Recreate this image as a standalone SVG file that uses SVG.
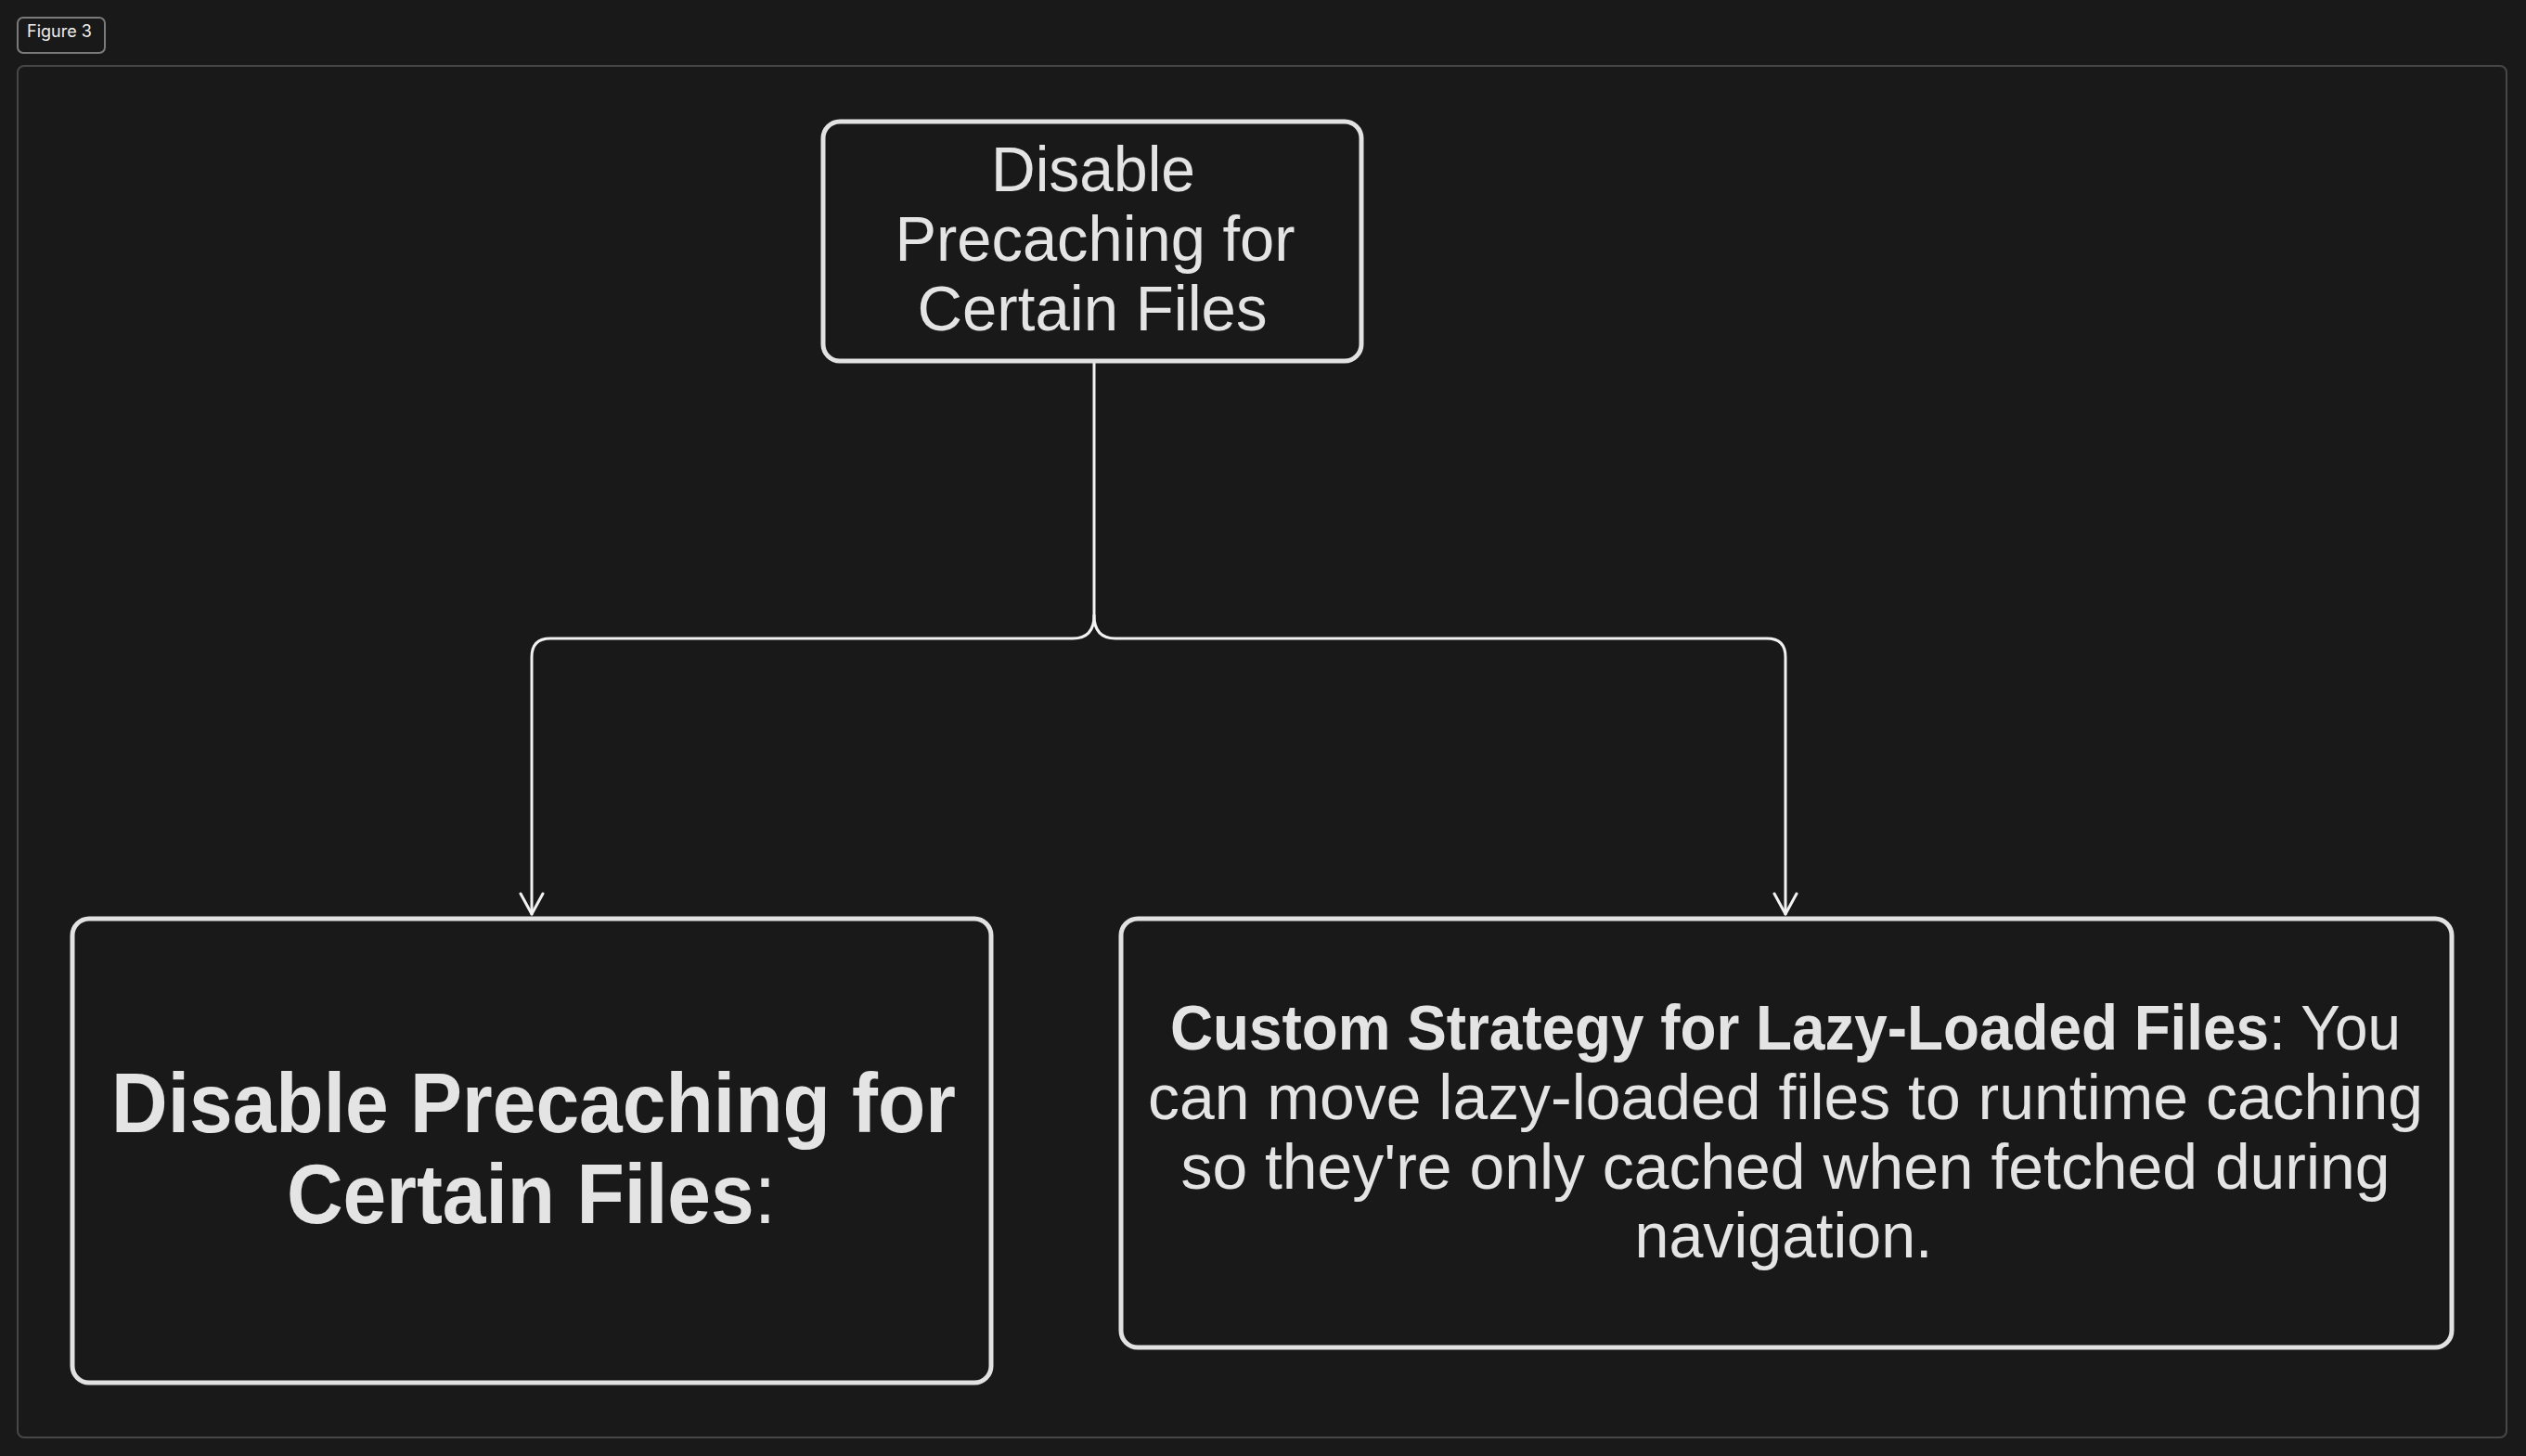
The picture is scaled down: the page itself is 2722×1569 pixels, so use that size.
<svg xmlns="http://www.w3.org/2000/svg" width="2722" height="1569" viewBox="0 0 2722 1569">
<style>
.node{fill:#191919;stroke:#e2e2e2;stroke-width:5}
.t{fill:#e4e4e4;font-family:"Liberation Sans",Arial,sans-serif;font-size:68px}
.b{font-weight:bold}
.r{font-weight:normal}
.c{text-anchor:middle}
.conn{fill:none;stroke:#f2f2f2;stroke-width:3;stroke-linecap:round;stroke-linejoin:round}
</style>
<defs>
<marker id="arr" markerUnits="userSpaceOnUse" markerWidth="30" markerHeight="30" viewBox="0 0 30 30" refX="24" refY="15" orient="auto">
<path d="M2 3 L24 15 L2 27" fill="none" stroke="#f2f2f2" stroke-width="3" stroke-linecap="round" stroke-linejoin="round"/>
</marker>
</defs>
<rect width="2722" height="1569" fill="#191919"/>
<g id="frame">
<rect x="19" y="71" width="2682" height="1478" rx="7" fill="none" stroke="#474747" stroke-width="2"/>
</g>
<g id="figure-label">
<rect x="19" y="19" width="94" height="38" rx="6" fill="#191919" stroke="#7a7a7a" stroke-width="2"/>
<text x="29" y="40" style="fill:#f0f0f0;font-family:Inter,'Liberation Sans',sans-serif;font-size:18px">Figure 3</text>
</g>
<g id="connectors">
<path class="conn" d="M1179 389 V663 Q1179 688 1156 688 H593 Q573 688 573 708 V985" marker-end="url(#arr)"/>
<path class="conn" d="M1179 663 Q1179 688 1202 688 H1904 Q1924 688 1924 708 V985" marker-end="url(#arr)"/>
</g>
<g id="node-top">
<rect class="node" x="887" y="131" width="580" height="258" rx="18"/>
<text class="t c" x="1178" y="206" textLength="220" lengthAdjust="spacingAndGlyphs">Disable</text>
<text class="t c" x="1180" y="281" textLength="431" lengthAdjust="spacingAndGlyphs">Precaching for</text>
<text class="t c" x="1177" y="356" textLength="377" lengthAdjust="spacingAndGlyphs">Certain Files</text>
</g>
<g id="node-left">
<rect class="node" x="78" y="990" width="990" height="500" rx="18"/>
<text class="t b" x="120" y="1220" style="font-size:90px" textLength="910" lengthAdjust="spacingAndGlyphs">Disable Precaching for</text>
<text class="t" x="309" y="1318" style="font-size:90px" textLength="527" lengthAdjust="spacingAndGlyphs"><tspan class="b">Certain Files</tspan><tspan class="r">:</tspan></text>
</g>
<g id="node-right">
<rect class="node" x="1208" y="990" width="1434" height="462" rx="18"/>
<text class="t" x="1261" y="1131" textLength="1326" lengthAdjust="spacingAndGlyphs"><tspan class="b">Custom Strategy for Lazy-Loaded Files</tspan><tspan class="r">: You</tspan></text>
<text class="t c" x="1924" y="1206" textLength="1374" lengthAdjust="spacingAndGlyphs">can move lazy-loaded files to runtime caching</text>
<text class="t c" x="1924" y="1281" textLength="1303" lengthAdjust="spacingAndGlyphs">so they're only cached when fetched during</text>
<text class="t c" x="1922" y="1355" textLength="321" lengthAdjust="spacingAndGlyphs">navigation.</text>
</g>
</svg>
